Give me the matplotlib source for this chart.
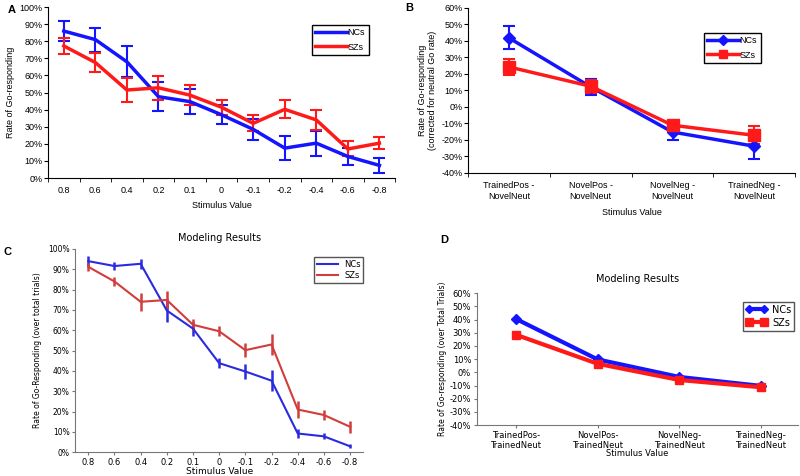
import numpy as np
import matplotlib
matplotlib.use('Agg')
import matplotlib.pyplot as plt

# ---- data (percent) ----
stim = ['0.8', '0.6', '0.4', '0.2', '0.1', '0', '-0.1', '-0.2', '-0.4', '-0.6', '-0.8']

a_nc = [86, 81, 68, 47.6, 44.7, 37, 28.5, 17.5, 20.4, 12.6, 7.4]
a_nc_err = [6, 7, 9, 8.5, 7.5, 5.5, 6, 7, 7.3, 5, 4.5]
a_sz = [77.3, 67.6, 51.5, 52.8, 48.5, 41.4, 32, 40.2, 34, 17, 20.4]
a_sz_err = [4.6, 5.6, 7.3, 7, 6, 4.3, 4.6, 5.3, 6, 4.4, 3.6]

b_cats = ['TrainedPos -\nNovelNeut', 'NovelPos -\nNovelNeut', 'NovelNeg -\nNovelNeut', 'TrainedNeg -\nNovelNeut']
b_nc = [41.8, 12.1, -15.2, -23.8]
b_nc_err = [7, 5, 4.6, 7.5]
b_sz = [24.2, 12.5, -11.1, -17.2]
b_sz_err = [5, 4, 2.5, 5.5]

c_nc = [94, 91.6, 92.7, 69.7, 60.8, 43.8, 39.7, 35.2, 9.2, 7.8, 2.9]
c_nc_err = [2.5, 2, 2.5, 5.5, 3.5, 2.5, 3.5, 5, 2, 1.5, 1]
c_sz = [91.2, 84, 74, 74.9, 62.7, 59.5, 50.2, 53, 21, 18.3, 12.5]
c_sz_err = [2, 2, 4.5, 4.5, 3, 2.5, 3.5, 5, 4, 2.5, 3]

d_cats = ['TrainedPos-\nTrainedNeut', 'NovelPos-\nTrainedNeut', 'NovelNeg-\nTrainedNeut', 'TrainedNeg-\nTrainedNeut']
d_nc = [40.5, 9.8, -3.5, -10.3]
d_sz = [28.5, 6.5, -5.8, -11.3]

BLUE = '#1414ff'
RED = '#ff1a1a'
XL = 'Liberation Sans'

fig = plt.figure(figsize=(8, 4.76), dpi=100)


def pct(ax, ticks, fs, family):
    ax.set_yticks(ticks)
    ax.set_yticklabels([f'{t}%' for t in ticks], fontsize=fs, family=family)


def excel_axes(ax, n):
    for s in ['top', 'right']:
        ax.spines[s].set_visible(False)
    ax.set_xlim(-0.5, n - 0.5)
    ax.set_xticks(np.arange(n))
    ax.set_xticks(np.arange(n + 1) - 0.5, minor=True)
    ax.tick_params(axis='x', which='major', length=0, pad=6)
    ax.tick_params(axis='x', which='minor', length=3, direction='out')
    ax.tick_params(axis='y', length=3, direction='out', pad=1)


# ---- A ----
axA = fig.add_axes([0.06, 0.626, 0.434, 0.359])
x = np.arange(len(stim))
ea1 = axA.errorbar(x, a_nc, yerr=a_nc_err, color=BLUE, lw=2.5, elinewidth=1.5, capsize=4, capthick=1.5, label='NCs')
ea2 = axA.errorbar(x, a_sz, yerr=a_sz_err, color=RED, lw=2.5, elinewidth=1.5, capsize=4, capthick=1.5, label='SZs')
excel_axes(axA, len(stim))
axA.set_ylim(0, 100)
pct(axA, list(range(0, 101, 10)), 6.5, XL)
axA.set_xticklabels(stim, fontsize=6.5, family=XL)
axA.set_xlabel('Stimulus Value', fontsize=6.5, family=XL, labelpad=4)
axA.set_ylabel('Rate of Go-responding', fontsize=6.5, family=XL, labelpad=3)
axA.legend([ea1[0], ea2[0]], ['NCs', 'SZs'], loc='upper left', bbox_to_anchor=(307 / 800, 1 - 20 / 476),
           bbox_transform=fig.transFigure, fancybox=False, edgecolor='black', framealpha=1,
           handlelength=3.5, handletextpad=0.1, borderpad=0.4, labelspacing=0.6,
           prop={'family': XL, 'size': 6.5})
fig.text(8 / 800, 1 - 10 / 476, 'A', fontsize=8, weight='bold', family=XL, va='center')

# ---- B ----
axB = fig.add_axes([0.585, 0.6366, 0.409, 0.347])
xb = np.arange(len(b_cats))
eb1 = axB.errorbar(xb, b_nc, yerr=b_nc_err, color=BLUE, lw=2.5, marker='D', ms=6, elinewidth=1.5,
                   capsize=4, capthick=1.5, label='NCs')
eb2 = axB.errorbar(xb, b_sz, yerr=b_sz_err, color=RED, lw=2.5, marker='s', ms=8, elinewidth=1.5,
                   capsize=4, capthick=1.5, label='SZs')
excel_axes(axB, len(b_cats))
axB.set_ylim(-40, 60)
pct(axB, list(range(-40, 61, 10)), 6.5, XL)
axB.set_xticklabels(b_cats, fontsize=6.5, family=XL)
axB.set_xlabel('Stimulus Value', fontsize=6.5, family=XL, labelpad=5)
axB.set_ylabel('Rate of Go-responding\n(corrected for neutral Go rate)', fontsize=6.5, family=XL, labelpad=3)
axB.legend([eb1[0], eb2[0]], ['NCs', 'SZs'], loc='upper left', bbox_to_anchor=(699 / 800, 1 - 28 / 476),
           bbox_transform=fig.transFigure, fancybox=False, edgecolor='black', framealpha=1,
           handlelength=3.5, handletextpad=0.1, borderpad=0.4, labelspacing=0.6, markerscale=0.8,
           prop={'family': XL, 'size': 6.5})
fig.text(405 / 800, 1 - 8 / 476, 'B', fontsize=8, weight='bold', family=XL, va='center')

# ---- C ----
axC = fig.add_axes([0.094, 0.05, 0.36, 0.427])
ec1 = axC.errorbar(x, c_nc, yerr=c_nc_err, color='#2a2ae0', lw=1.5, elinewidth=1.8, capsize=0)
ec2 = axC.errorbar(x, c_sz, yerr=c_sz_err, color='#d23c3c', lw=1.5, elinewidth=1.8, capsize=0)
for s in ['top', 'right']:
    axC.spines[s].set_visible(False)
for s in ['left', 'bottom']:
    axC.spines[s].set_color('#777777')
axC.set_xlim(-0.5, 10.5)
axC.set_ylim(0, 100)
axC.set_xticks(x)
axC.set_xticklabels(stim, fontsize=6)
pct(axC, list(range(0, 101, 10)), 5.5, 'DejaVu Sans')
axC.tick_params(length=2, color='#777777', pad=2)
axC.set_xlabel('Stimulus Value', fontsize=6.5, labelpad=0)
axC.set_ylabel('Rate of Go-Responding (over total trials)', fontsize=5.5, labelpad=4)
axC.set_title('Modeling Results', fontsize=7, pad=6)
axC.legend([ec1[0], ec2[0]], ['NCs', 'SZs'], loc='upper left', bbox_to_anchor=(310 / 800, 1 - 253 / 476),
           bbox_transform=fig.transFigure, fancybox=False, edgecolor='#555555', framealpha=1,
           handlelength=2.5, handletextpad=0.8, borderpad=0.3, labelspacing=0.3, fontsize=6)
fig.text(3 / 800, 1 - 252 / 476, 'C', fontsize=8, weight='bold', family=XL, va='center')

# ---- D ----
axD = fig.add_axes([0.596, 0.107, 0.401, 0.277])
axD.plot(xb, d_nc, color=BLUE, lw=3, marker='D', ms=5, label='NCs')
axD.plot(xb, d_sz, color=RED, lw=3, marker='s', ms=6, label='SZs')
for s in ['top', 'right']:
    axD.spines[s].set_visible(False)
for s in ['left', 'bottom']:
    axD.spines[s].set_color('#777777')
axD.set_xlim(-0.48, 3.45)
axD.set_ylim(-40, 60)
axD.set_xticks(xb)
axD.set_xticklabels(d_cats, fontsize=6)
pct(axD, list(range(-40, 61, 10)), 6, 'DejaVu Sans')
axD.tick_params(length=2, color='#777777', pad=2)
axD.set_xlabel('Stimulus Value', fontsize=6, labelpad=-1)
axD.set_ylabel('Rate of Go-responding (over Total Trials)', fontsize=5.5, labelpad=2)
axD.set_title('Modeling Results', fontsize=7, pad=8)
axD.legend(loc='upper left', bbox_to_anchor=(738 / 800, 1 - 297 / 476), bbox_transform=fig.transFigure,
           fancybox=False, edgecolor='#555555', framealpha=1, handlelength=2.2, handletextpad=0.5,
           borderpad=0.3, labelspacing=0.3, numpoints=2, markerscale=0.9, fontsize=7)
fig.text(440 / 800, 1 - 240 / 476, 'D', fontsize=8, weight='bold', family=XL, va='center')

fig.savefig('out.png', dpi=100)
